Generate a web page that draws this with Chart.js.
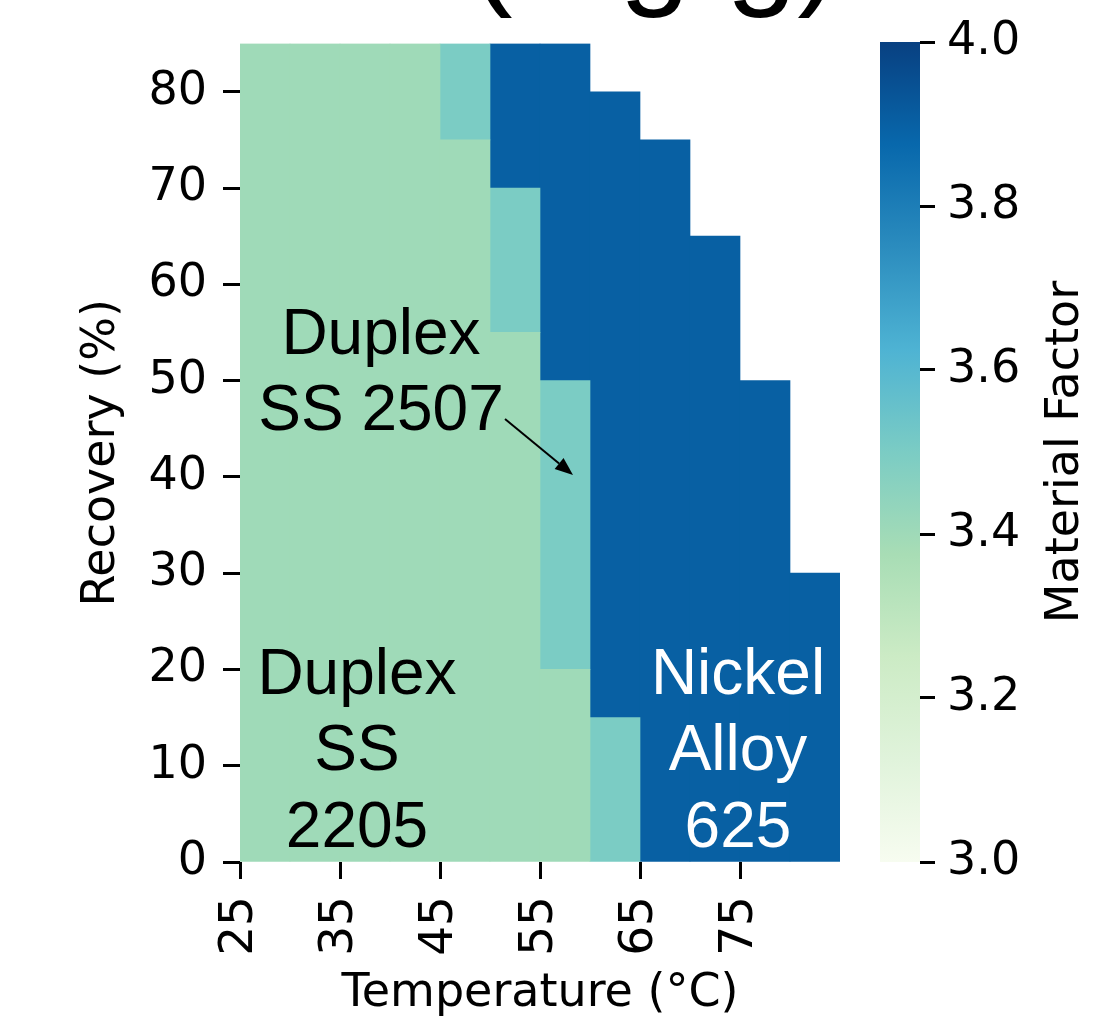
<!DOCTYPE html>
<html>
<head>
<meta charset="utf-8">
<script src="https://cdn.jsdelivr.net/npm/chart.js@4"></script>
<style>
  body { margin: 0; background: #fff; }
  #wrap { position: relative; width: 1101px; height: 1022px; overflow: hidden; }
  canvas { position: absolute; top: 0; }
</style>
</head>
<body>
<div id="wrap">
  <canvas id="heat" width="1101" height="1022" style="left:0"></canvas>
  <canvas id="cbar" width="241" height="1022" style="left:860px"></canvas>
</div>
<script>
// Column left edges (Temperature, °C), each column is 5 °C wide
const temps = [25, 30, 35, 40, 45, 50, 55, 60, 65, 70, 75, 80];

// Recovery (%) range [from, to] covered by each material in each column
const duplex2205 = [[0, 85], [0, 85], [0, 85], [0, 85], [0, 75], [0, 55], [0, 20], null, null, null, null, null];
const duplex2507 = [null, null, null, null, [75, 85], [55, 70], [20, 50], [0, 15], null, null, null, null];
const nickel625  = [null, null, null, null, null, [70, 85], [50, 85], [15, 80], [0, 75], [0, 65], [0, 50], [0, 30]];

const materialNames = ['Duplex SS 2205', 'Duplex SS 2507', 'Nickel Alloy 625'];
const materialFactor = [3.4, 3.5, 3.9];

// tick labels
const xTicks = [25, 35, 45, 55, 65, 75];
const yTicks = [0, 10, 20, 30, 40, 50, 60, 70, 80];
const cbTicks = [3.0, 3.2, 3.4, 3.6, 3.8, 4.0];

// GnBu colormap, vmin 3.0 / vmax 4.0
const gnbu = ['#f7fcf0', '#e0f3db', '#ccebc5', '#a8ddb5', '#7bccc4', '#4eb3d3', '#2b8cbe', '#0868ac', '#084081'];
const vmin = 3.0, vmax = 4.0;

function hexToRgb(h) {
    return [parseInt(h.substr(1, 2), 16), parseInt(h.substr(3, 2), 16), parseInt(h.substr(5, 2), 16)];
}

function gnbuColor(v) {
    const t = Math.min(1, Math.max(0, (v - vmin) / (vmax - vmin))) * (gnbu.length - 1);
    const i = Math.min(gnbu.length - 2, Math.floor(t));
    const f = t - i;
    const a = hexToRgb(gnbu[i]), b = hexToRgb(gnbu[i + 1]);
    const c = a.map((x, k) => Math.round(x + (b[k] - x) * f));
    return `rgb(${c[0]}, ${c[1]}, ${c[2]})`;
}

function toBars(ranges) {
    return temps.map((t, i) => ranges[i] ? { x: t + 2.5, y: ranges[i] } : null).filter(Boolean);
}

const cellStyle = { borderWidth: 0, barPercentage: 1, categoryPercentage: 1, grouped: false };

// Text labels on the heatmap (data coordinates)
const annotations = [
    { lines: ['Duplex', 'SS 2507'], x: 39.1, y: 51.2, color: '#000' },
    { lines: ['Duplex', 'SS', '2205'], x: 36.7, y: 11.9, color: '#000' },
    { lines: ['Nickel', 'Alloy', '625'], x: 74.8, y: 11.9, color: '#fff' }
];
const arrow = { from: [51.5, 46.0], to: [58.3, 40.2] };

const heatLabels = {
    id: 'heatLabels',
    afterDatasetsDraw(chart) {
        const { ctx, scales } = chart;
        const size = 64;
        ctx.save();
        ctx.font = `${size}px "Liberation Sans", Arial, sans-serif`;
        ctx.textAlign = 'center';
        ctx.textBaseline = 'alphabetic';
        annotations.forEach(a => {
            const cx = scales.x.getPixelForValue(a.x);
            const cy = scales.y.getPixelForValue(a.y);
            const lh = size * 1.2;
            ctx.fillStyle = a.color;
            a.lines.forEach((line, i) => {
                const base = cy + (i - (a.lines.length - 1) / 2) * lh + size * 0.716 / 2;
                ctx.fillText(line, cx, base);
            });
        });

        // arrow
        const x1 = scales.x.getPixelForValue(arrow.from[0]), y1 = scales.y.getPixelForValue(arrow.from[1]);
        const x2 = scales.x.getPixelForValue(arrow.to[0]), y2 = scales.y.getPixelForValue(arrow.to[1]);
        const ang = Math.atan2(y2 - y1, x2 - x1);
        const hl = 18, hw = 7;
        ctx.strokeStyle = '#000';
        ctx.fillStyle = '#000';
        ctx.lineWidth = 2;
        ctx.beginPath();
        ctx.moveTo(x1, y1);
        ctx.lineTo(x2 - hl * Math.cos(ang), y2 - hl * Math.sin(ang));
        ctx.stroke();
        ctx.beginPath();
        ctx.moveTo(x2, y2);
        ctx.lineTo(x2 - hl * Math.cos(ang) + hw * Math.sin(ang), y2 - hl * Math.sin(ang) - hw * Math.cos(ang));
        ctx.lineTo(x2 - hl * Math.cos(ang) - hw * Math.sin(ang), y2 - hl * Math.sin(ang) + hw * Math.cos(ang));
        ctx.closePath();
        ctx.fill();

        // title, mostly cut off at the top of the figure
        ctx.font = '128px "Liberation Sans", Arial, sans-serif';
        ctx.textAlign = 'left';
        ctx.fillText('(mg/g)', 470, -9);
        ctx.restore();
    }
};

Chart.defaults.font.family = '"DejaVu Sans", sans-serif';
Chart.defaults.color = '#000';

new Chart(document.getElementById('heat'), {
    type: 'bar',
    data: {
        datasets: [duplex2205, duplex2507, nickel625].map((r, i) => Object.assign({
            label: materialNames[i],
            data: toBars(r),
            backgroundColor: gnbuColor(materialFactor[i])
        }, cellStyle))
    },
    options: {
        responsive: false,
        animation: false,
        layout: { padding: { top: 42, right: 261, left: 0, bottom: 0 } },
        plugins: { legend: { display: false }, tooltip: { enabled: false } },
        scales: {
            x: {
                type: 'linear',
                offset: false,
                min: 25,
                max: 85,
                afterBuildTicks: s => { s.ticks = xTicks.map(v => ({ value: v })); },
                afterFit: s => { s.height = 160; },
                ticks: { autoSkip: false, minRotation: 90, maxRotation: 90, padding: 17, font: { size: 47 } },
                grid: { offset: false, drawOnChartArea: false, tickLength: 17, tickWidth: 3, tickColor: '#000' },
                border: { display: false },
                title: { display: true, text: 'Temperature (°C)', font: { size: 46 }, padding: { top: 0, bottom: 0 } }
            },
            y: {
                type: 'linear',
                min: 0,
                max: 85,
                afterBuildTicks: s => { s.ticks = yTicks.map(v => ({ value: v })); },
                afterFit: s => { s.width = 240; },
                ticks: { autoSkip: false, padding: 16, font: { size: 46 } },
                grid: { drawOnChartArea: false, tickLength: 17, tickWidth: 3, tickColor: '#000' },
                border: { display: false },
                title: { display: true, text: 'Recovery (%)', font: { size: 46 }, padding: { top: 74, bottom: 0 } }
            }
        }
    },
    plugins: [heatLabels]
});

// Colorbar
const cbTitle = {
    id: 'cbTitle',
    afterDraw(chart) {
        const { ctx, scales } = chart;
        const y = scales.y;
        ctx.save();
        ctx.font = '46px "DejaVu Sans", sans-serif';
        ctx.fillStyle = '#000';
        ctx.textAlign = 'center';
        ctx.textBaseline = 'middle';
        ctx.translate(206, (y.top + y.bottom) / 2);
        ctx.rotate(-Math.PI / 2);
        ctx.fillText('Material Factor', 0, 0);
        ctx.restore();
    }
};

new Chart(document.getElementById('cbar'), {
    type: 'bar',
    data: {
        labels: ['Material Factor'],
        datasets: [{
            data: [[vmin, vmax]],
            borderWidth: 0,
            barPercentage: 1,
            categoryPercentage: 1,
            backgroundColor: c => {
                const { ctx, chartArea, scales } = c.chart;
                if (!chartArea) return gnbu[4];
                const g = ctx.createLinearGradient(0, scales.y.getPixelForValue(vmin), 0, scales.y.getPixelForValue(vmax));
                gnbu.forEach((col, i) => g.addColorStop(i / (gnbu.length - 1), col));
                return g;
            }
        }]
    },
    options: {
        responsive: false,
        animation: false,
        layout: { padding: { top: 42, left: 20, right: 0, bottom: 160 } },
        plugins: { legend: { display: false }, tooltip: { enabled: false } },
        scales: {
            x: { display: false },
            y: {
                position: 'right',
                min: vmin,
                max: vmax,
                afterBuildTicks: s => { s.ticks = cbTicks.map(v => ({ value: v })); },
                afterFit: s => { s.width = 181; },
                ticks: { padding: 12, font: { size: 46 }, callback: v => v.toFixed(1) },
                grid: { drawOnChartArea: false, tickLength: 15, tickWidth: 3, tickColor: '#000' },
                border: { display: false }
            }
        }
    },
    plugins: [cbTitle]
});
</script>
</body>
</html>
